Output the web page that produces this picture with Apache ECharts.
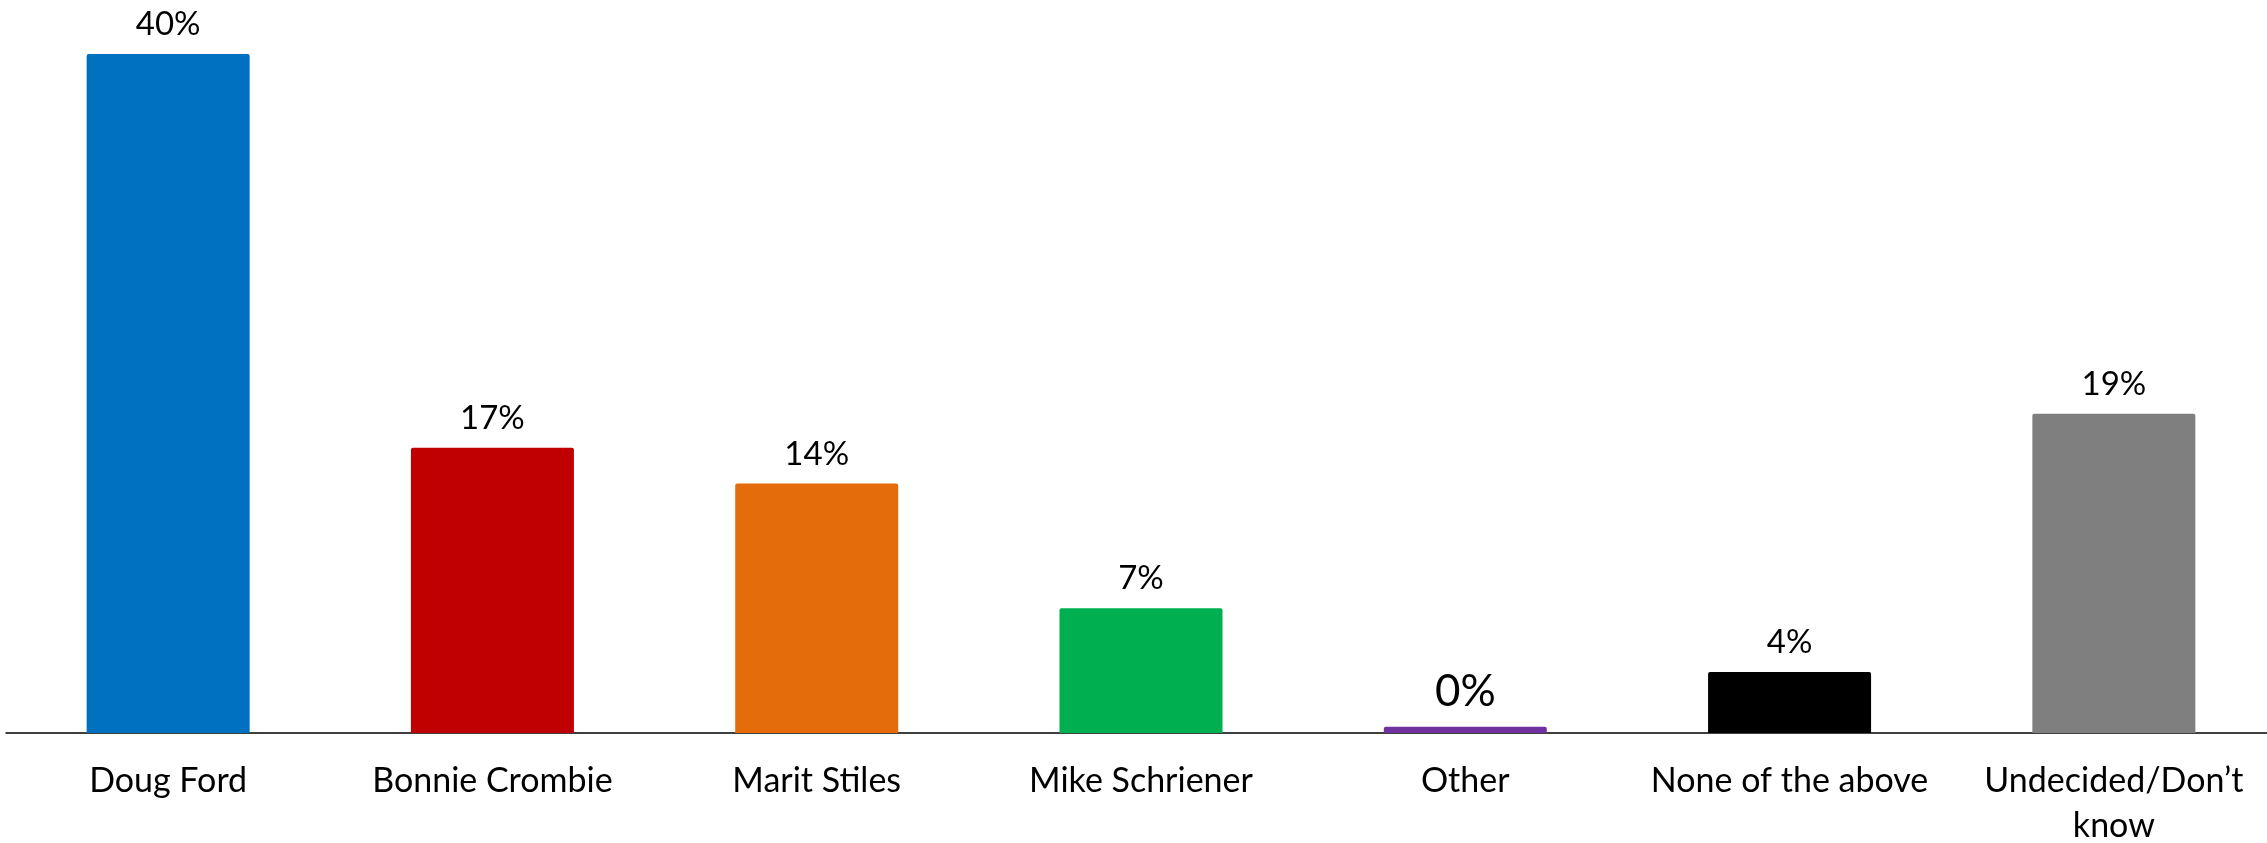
<!DOCTYPE html>
<html>
<head>
<meta charset="utf-8">
<script src="https://cdn.jsdelivr.net/npm/echarts@6/dist/echarts.min.js"></script>
<style>
  html, body { margin: 0; padding: 0; background: #ffffff; overflow: hidden; }
  #chart { width: 100vw; height: 100vh; }
</style>
</head>
<body>
<div id="chart"></div>
<script>
  const categories = ['Doug Ford', 'Bonnie Crombie', 'Marit Stiles', 'Mike Schriener', 'Other', 'None of the above', 'Undecided/Don\u2019t\nknow'];
  const values = [40, 16.8, 14.7, 7.35, 0.37, 3.6, 18.8];
  const valueLabels = ['40%', '17%', '14%', '7%', '0%', '4%', '19%'];

  const barColors = ['#0070C0', '#C00000', '#E46C0A', '#00B050', '#7030A0', '#000000', '#7F7F7F'];
  const fontFamily = 'Lato, "Open Sans", sans-serif';

  const chart = echarts.init(document.getElementById('chart'), null, { renderer: 'canvas' });

  const barData = values.map(function (v, i) {
    const item = { value: v, itemStyle: { color: barColors[i] } };
    if (valueLabels[i] === '0%') {
      // the zero label is drawn bigger in the source
      item.label = { fontSize: 44 };
    }
    return item;
  });

  chart.setOption({
    animation: false,
    backgroundColor: '#ffffff',
    // v6 shrinks the grid to keep labels inside by default; the source lets them run to the edge
    grid: { left: 6, right: -9, top: 54, bottom: 110, containLabel: false, outerBoundsMode: 'none' },
    xAxis: {
      type: 'category',
      data: categories,
      axisLine: { show: true, lineStyle: { color: '#000000', width: 1.5 } },
      axisTick: { show: false },
      axisLabel: {
        margin: 26,
        interval: 0,
        color: '#000000',
        fontFamily: fontFamily,
        fontSize: 34,
        lineHeight: 45
      }
    },
    yAxis: {
      type: 'value',
      min: 0,
      max: 40,
      show: false,
      splitLine: { show: false }
    },
    series: [{
      type: 'bar',
      data: barData,
      barWidth: 163,
      itemStyle: { borderRadius: [2, 2, 0, 0] },
      label: {
        show: true,
        position: 'top',
        distance: 13,
        color: '#000000',
        fontFamily: fontFamily,
        fontSize: 33,
        formatter: function (p) { return valueLabels[p.dataIndex]; }
      }
    }]
  });

  window.addEventListener('resize', function () { chart.resize(); });
</script>
</body>
</html>
